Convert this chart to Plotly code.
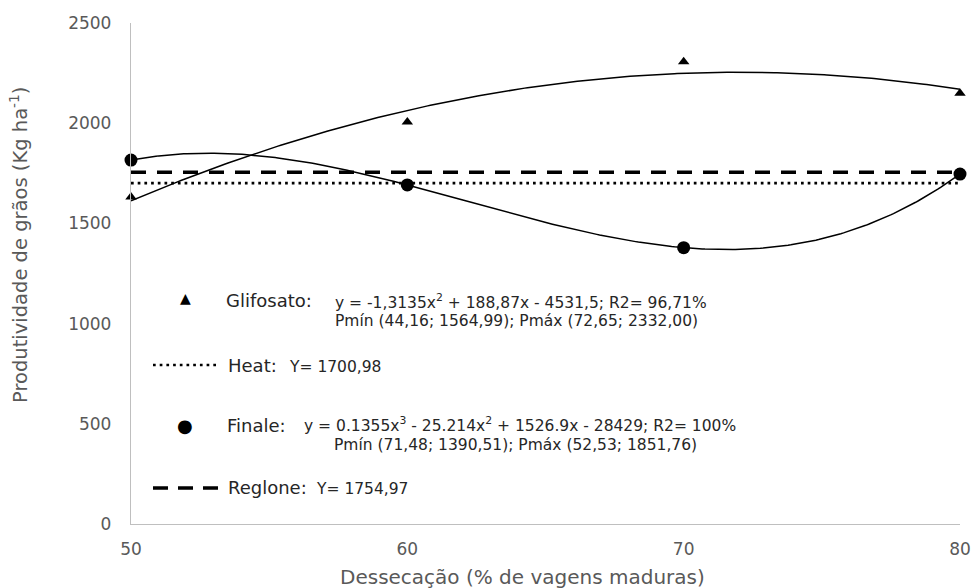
import numpy as np
import plotly.graph_objects as go

# ---- data ----
x_levels = [50, 60, 70, 80]
glifosato = [1632, 2006, 2307, 2150]
finale = [1816, 1692, 1379, 1746]
heat_mean = 1700.98
reglone_mean = 1754.97
y_ticks = [0, 500, 1000, 1500, 2000, 2500]
x_ticks = [50, 60, 70, 80]

FONT = "'DejaVu Sans', sans-serif"
GRAY = "#595959"
DARK = "#262626"

xs = np.linspace(min(x_levels), max(x_levels), 300)
fit_g = np.polyval(np.polyfit(x_levels, glifosato, 2), xs)
fit_f = np.polyval(np.polyfit(x_levels, finale, 3), xs)

DASH = "15px,11px"
DOT = "2.7px,4px"

fig = go.Figure()
fig.add_trace(go.Scatter(x=[x_levels[0], x_levels[-1]], y=[reglone_mean] * 2, mode="lines",
                         line=dict(color="black", width=3.5, dash=DASH), showlegend=False))
fig.add_trace(go.Scatter(x=[x_levels[0], x_levels[-1]], y=[heat_mean] * 2, mode="lines",
                         line=dict(color="black", width=2.7, dash=DOT), showlegend=False))
fig.add_trace(go.Scatter(x=xs, y=fit_g, mode="lines", line=dict(color="black", width=1.5),
                         showlegend=False))
fig.add_trace(go.Scatter(x=xs, y=fit_f, mode="lines", line=dict(color="black", width=1.5),
                         showlegend=False))
fig.add_trace(go.Scatter(x=x_levels, y=glifosato, mode="markers",
                         marker=dict(symbol="triangle-up", size=10, color="black"), showlegend=False,
                         cliponaxis=False))
fig.add_trace(go.Scatter(x=x_levels, y=finale, mode="markers",
                         marker=dict(symbol="circle", size=13, color="black"), showlegend=False,
                         cliponaxis=False))

W, H = 973, 588
ml, mt = 131, 23
mr = W - 960
mb = H - 524
pw, ph = W - ml - mr, H - mt - mb


def px(x):
    return (x - ml) / pw


def py(y):
    return 1 - (y - mt) / ph


ann = []


def txt(x, y, s, size, anchor="left", color=DARK, angle=0):
    ann.append(dict(x=px(x), y=py(y), xref="paper", yref="paper", text=s, showarrow=False,
                    xanchor=anchor, yanchor="middle", textangle=angle,
                    font=dict(size=size, color=color, family=FONT)))


EQ = 15.5
NAME = 18
txt(185, 298, "▲", 14, "center", "black")
txt(224, 300, "Glifosato:", NAME)
txt(333, 301, "y = -1,3135x<sup>2</sup> + 188,87x - 4531,5; R2= 96,71%", EQ)
txt(333, 321, "Pmín (44,16; 1564,99); Pmáx (72,65; 2332,00)", EQ)
txt(226, 365, "Heat:", NAME)
txt(287, 367, "Y= 1700,98", EQ)
txt(185, 425, "●", 18, "center", "black")
txt(225, 425, "Finale:", NAME)
txt(302, 424, "y = 0.1355x<sup>3</sup> - 25.214x<sup>2</sup> + 1526.9x - 28429; R2= 100%", EQ)
txt(332, 445, "Pmín (71,48; 1390,51); Pmáx (52,53; 1851,76)", EQ)
txt(226, 487, "Reglone:", NAME)
txt(314, 489, "Y= 1754,97", EQ)

# axis titles
txt(522, 577, "Dessecação (% de vagens maduras)", 20, "center", GRAY)
txt(19, 245, "Produtividade de grãos (Kg ha<sup>-1</sup>)", 19.5, "center", GRAY, -90)

shapes = [
    dict(type="line", xref="paper", yref="paper", x0=px(153), x1=px(219), y0=py(365), y1=py(365),
         line=dict(color="black", width=2.7, dash=DOT)),
    dict(type="line", xref="paper", yref="paper", x0=px(153), x1=px(219), y0=py(488), y1=py(488),
         line=dict(color="black", width=3.5, dash="15px,10px")),
]

fig.update_layout(
    width=W, height=H,
    margin=dict(l=ml, r=mr, t=mt, b=mb, autoexpand=False),
    plot_bgcolor="white", paper_bgcolor="white",
    font=dict(family=FONT, color=GRAY, size=18),
    annotations=ann, shapes=shapes,
    xaxis=dict(range=[50, 80], tickvals=x_ticks, showgrid=False, zeroline=False, automargin=False,
               showline=True, linecolor="#bfbfbf", linewidth=1.3, ticks="",
               tickfont=dict(size=17, color=GRAY, family=FONT), ticklabelstandoff=9),
    yaxis=dict(range=[0, 2500], tickvals=y_ticks, showgrid=False, zeroline=False, automargin=False,
               showline=True, linecolor="#bfbfbf", linewidth=1.3, ticks="",
               tickfont=dict(size=17, color=GRAY, family=FONT), ticklabelstandoff=15),
)

fig.write_html("out.html", config={"displayModeBar": False},
               post_script="document.body.style.margin='0';document.body.style.overflow='hidden';")
